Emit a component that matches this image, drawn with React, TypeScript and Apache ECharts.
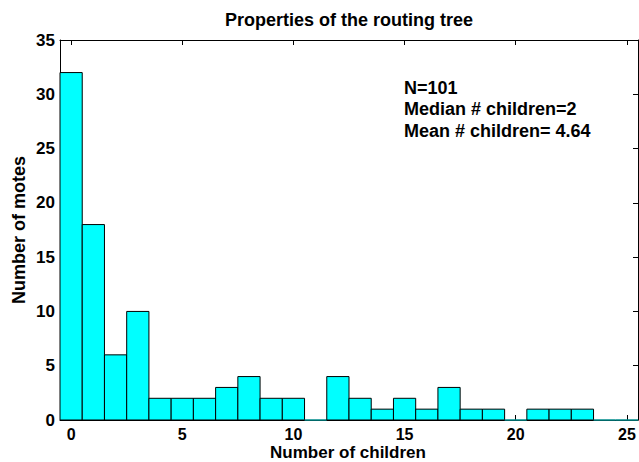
import React, { useEffect, useRef } from "react";
import * as echarts from "echarts";

const binCenters = [0, 1, 2, 3, 4, 5, 6, 7, 8, 9, 10, 11, 12, 13, 14, 15, 16, 17, 18, 19, 20, 21, 22, 23, 24, 25];
const counts = [32, 18, 6, 10, 2, 2, 2, 3, 4, 2, 2, 0, 4, 2, 1, 2, 1, 3, 1, 1, 0, 1, 1, 1, 0, 0];
const xTicks = [0, 5, 10, 15, 20, 25];
const titleText = "Properties of the routing tree";
const xName = "Number of children";
const yName = "Number of motes";
const statLines = ["N=101", "Median # children=2", "Mean # children= 4.64"];

const FONT = "'Liberation Sans', Arial, Helvetica, sans-serif";

export default function App() {
  const ref = useRef<HTMLDivElement>(null);
  useEffect(() => {
    if (!ref.current) return;
    const chart = echarts.init(ref.current, undefined, { renderer: "svg" });
    const data = binCenters.map((c, i) => [c, counts[i]]);
    const axisLine = { show: true, onZero: false, lineStyle: { color: "#000", width: 1 } };
    const tickStyle = { color: "#000", width: 1 };
    chart.setOption({
      animation: false,
      backgroundColor: "#fff",
      textStyle: { fontFamily: FONT },
      grid: { left: 60, right: 1, top: 40, bottom: 42, containLabel: false },
      xAxis: [
        {
          type: "value",
          min: -0.5,
          max: 25.5,
          axisLine,
          splitLine: { show: false },
          axisTick: { show: true, inside: true, length: 5, customValues: xTicks, lineStyle: tickStyle },
          axisLabel: {
            customValues: xTicks,
            margin: 6,
            color: "#000",
            fontFamily: FONT,
            fontWeight: "bold",
            fontSize: 16,
          },
        },
        {
          type: "value",
          position: "top",
          min: -0.5,
          max: 25.5,
          axisLine,
          splitLine: { show: false },
          axisTick: { show: true, inside: true, length: 5, customValues: xTicks, lineStyle: tickStyle },
          axisLabel: { show: false },
        },
      ],
      yAxis: [
        {
          type: "value",
          min: 0,
          max: 35,
          interval: 5,
          axisLine,
          splitLine: { show: false },
          axisTick: { show: true, inside: true, length: 5, lineStyle: tickStyle },
          axisLabel: { margin: 5, color: "#000", fontFamily: FONT, fontWeight: "bold", fontSize: 17 },
        },
        {
          type: "value",
          position: "right",
          min: 0,
          max: 35,
          interval: 5,
          axisLine,
          splitLine: { show: false },
          axisTick: { show: true, inside: true, length: 5, lineStyle: tickStyle },
          axisLabel: { show: false },
        },
      ],
      series: [
        {
          type: "custom",
          xAxisIndex: 0,
          yAxisIndex: 0,
          data,
          clip: false,
          renderItem: (params: any, api: any) => {
            const x = api.value(0);
            const v = api.value(1);
            const p0 = api.coord([x - 0.5, v]);
            const p1 = api.coord([x + 0.5, 0]);
            if (v === 0) {
              return {
                type: "line",
                shape: { x1: p0[0], y1: p1[1], x2: p1[0], y2: p1[1] },
                style: { stroke: "#008b8b", lineWidth: 1.5 },
              };
            }
            return {
              type: "rect",
              shape: { x: p0[0], y: p0[1], width: p1[0] - p0[0], height: p1[1] - p0[1] },
              style: { fill: "#00ffff", stroke: "#000", lineWidth: 1 },
            };
          },
        },
      ],
      graphic: [
        {
          type: "text",
          x: 349,
          y: 20,
          style: {
            text: titleText,
            fill: "#000",
            font: `bold 18px ${FONT}`,
            align: "center",
            verticalAlign: "middle",
          },
        },
        {
          type: "text",
          x: 348,
          y: 452.5,
          style: {
            text: xName,
            fill: "#000",
            font: `bold 17px ${FONT}`,
            align: "center",
            verticalAlign: "middle",
          },
        },
        {
          type: "text",
          x: 19,
          y: 230,
          rotation: Math.PI / 2,
          style: {
            text: yName,
            fill: "#000",
            font: `bold 18px ${FONT}`,
            align: "center",
            verticalAlign: "middle",
          },
        },
        ...statLines.map((t, i) => ({
          type: "text",
          x: 404,
          y: 88 + i * 21.3,
          style: {
            text: t,
            fill: "#000",
            font: `bold 18px ${FONT}`,
            align: "left",
            verticalAlign: "middle",
          },
        })),
      ],
    });
    return () => chart.dispose();
  }, []);
  return <div ref={ref} style={{ width: 639, height: 462, position: "absolute", left: 0, top: 0 }} />;
}
